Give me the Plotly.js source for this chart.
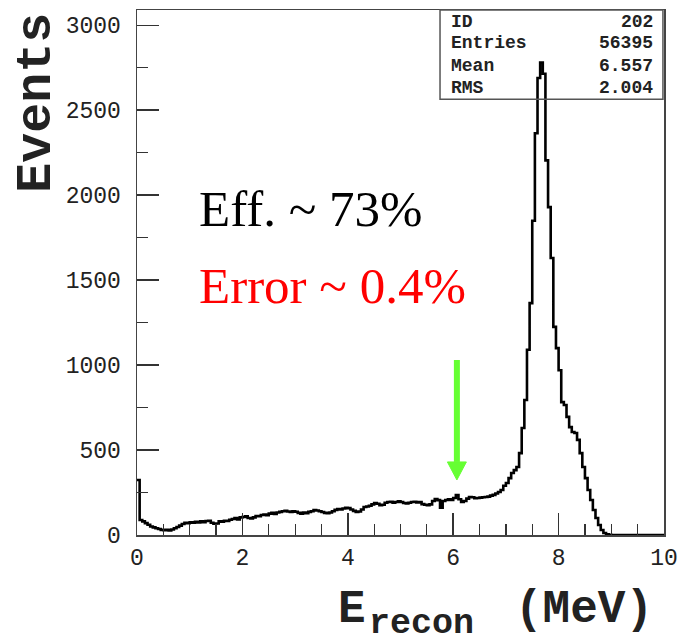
<!DOCTYPE html>
<html>
<head>
<meta charset="utf-8">
<script src="https://cdn.plot.ly/plotly-3.0.1.min.js"></script>
<style>html,body{margin:0;padding:0;background:#fff;}#chart{width:681px;height:644px;}</style>
</head>
<body>
<div id="chart"></div>
<script>
// Histogram of reconstructed energy, 200 bins of 0.05 MeV from 0 to 10 MeV
const binLow = 0;
const binWidth = 0.05;
const counts = [
  324, 88, 80, 70, 60, 50, 45, 40, 35, 30, 28, 30, 27, 32, 40, 47, 55, 65, 72, 70,
  75, 72, 78, 74, 80, 76, 82, 84, 72, 66, 68, 80, 78, 84, 82, 90, 94, 100, 92, 104,
  106, 110, 100, 98, 104, 112, 110, 118, 120, 116, 126, 130, 124, 132, 136, 140, 142, 138, 136, 140,
  137, 130, 126, 132, 129, 136, 140, 147, 144, 140, 135, 130, 128, 132, 140, 148, 153, 150, 156, 160,
  158, 150, 142, 135, 138, 150, 165, 168, 172, 180, 188, 184, 176, 178, 190, 194, 196, 190, 194, 198,
  194, 188, 186, 190, 194, 196, 192, 194, 182, 178, 176, 180, 200, 212, 205, 160, 200, 206, 210, 206,
  218, 235, 210, 194, 200, 214, 224, 222, 216, 218, 220, 222, 224, 226, 232, 236, 244, 253, 265, 290,
  306, 335, 365, 382, 400, 482, 630, 795, 1090, 1365, 1850, 2365, 2690, 2780, 2715, 2205, 1930, 1630, 1225, 1100,
  970, 782, 765, 695, 635, 606, 600, 560, 482, 400, 335, 265, 206, 147, 100, 59, 29, 12, 4, 1,
  0, 0, 0, 0, 0, 0, 0, 0, 0, 0, 0, 0, 0, 0, 0, 0, 0, 0, 0, 0
];
const xTickVals = [0, 2, 4, 6, 8, 10];
const xTickText = ['0', '2', '4', '6', '8', '10'];
const yTickVals = [0, 500, 1000, 1500, 2000, 2500, 3000];
const yTickText = ['0', '500', '1000', '1500', '2000', '2500', '3000'];
const statLabels = ['ID', 'Entries', 'Mean', 'RMS'];
const statValues = ['202', '56395', '6.557', '2.004'];
const effText = 'Eff. ~ 73%';
const errText = 'Error ~ 0.4%';
const yTitle = 'Events';
const xTitleMain = 'E';
const xTitleSub = 'recon';
const xTitleUnit = '(MeV)';
// green arrow marking the energy cut
const arrowEnergy = 6.07;
const arrowTip = 324;
const arrowHeadBase = 430;
const arrowTail = 1030;
const arrowHalfWidth = 0.18;

// build step outline from bin edges
const xs = [], ys = [];
for (let i = 0; i < counts.length; i++) { xs.push(binLow + i * binWidth); ys.push(counts[i]); }
xs.push(binLow + counts.length * binWidth); ys.push(counts[counts.length - 1]);

const mono = 'Liberation Mono, Courier New, monospace';
const serif = 'Liberation Serif, Times New Roman, serif';

const trace = {
  type: 'scatter', mode: 'lines', x: xs, y: ys,
  line: {shape: 'hv', color: '#000', width: 2.6},
  hoverinfo: 'skip', showlegend: false
};

const statRowsY = [0.977, 0.937, 0.893, 0.851];
const annotations = [];
statLabels.forEach((s, i) => {
  annotations.push({xref: 'paper', yref: 'paper', x: 0.592, y: statRowsY[i], xanchor: 'left', yanchor: 'middle',
    text: s, showarrow: false, font: {family: mono, size: 18, color: '#222', weight: 'bold'}});
  annotations.push({xref: 'paper', yref: 'paper', x: 0.983, y: statRowsY[i], xanchor: 'right', yanchor: 'middle',
    text: statValues[i], showarrow: false, font: {family: mono, size: 18, color: '#222', weight: 'bold'}});
});
annotations.push({xref: 'paper', yref: 'paper', x: 0.114, y: 0.621, xanchor: 'left', yanchor: 'middle',
  text: effText, showarrow: false, font: {family: serif, size: 51, color: '#000'}});
annotations.push({xref: 'paper', yref: 'paper', x: 0.114, y: 0.475, xanchor: 'left', yanchor: 'middle',
  text: errText, showarrow: false, font: {family: serif, size: 51, color: '#ff0000'}});
annotations.push({xref: 'paper', yref: 'paper', x: -0.19, y: 0.823, xanchor: 'center', yanchor: 'middle', textangle: -90,
  text: yTitle, showarrow: false, font: {family: mono, size: 50, color: '#222', weight: 'bold'}});
annotations.push({xref: 'paper', yref: 'paper', x: 0.378, y: -0.143, xanchor: 'left', yanchor: 'middle',
  text: xTitleMain, showarrow: false, font: {family: mono, size: 46, color: '#222', weight: 'bold'}});
annotations.push({xref: 'paper', yref: 'paper', x: 0.44, y: -0.2075, xanchor: 'left', yanchor: 'bottom',
  text: xTitleSub, showarrow: false, borderpad: 0, borderwidth: 0,
  font: {family: mono, size: 35, color: '#222', weight: 'bold'}});
annotations.push({xref: 'paper', yref: 'paper', x: 0.983, y: -0.143, xanchor: 'right', yanchor: 'middle',
  text: xTitleUnit, showarrow: false, font: {family: mono, size: 46, color: '#222', weight: 'bold'}});

const axisCommon = {
  showgrid: false, zeroline: false, showline: true, linecolor: '#444', linewidth: 1.5, mirror: true,
  ticks: 'inside', ticklen: 22, tickwidth: 1.5, tickcolor: '#333',
  tickfont: {family: mono, size: 23, color: '#222'}, tickmode: 'array'
};

const layout = {
  width: 681, height: 644, autosize: false,
  margin: {l: 137, r: 17, t: 10, b: 109},
  paper_bgcolor: '#fff', plot_bgcolor: '#fff',
  xaxis: Object.assign({}, axisCommon, {range: [0, 10], tickvals: xTickVals, ticktext: xTickText,
    minor: {dtick: 0.5, tick0: 0, ticks: 'inside', ticklen: 11, tickwidth: 1.2, tickcolor: '#333'}, ticklabelstandoff: 1}),
  yaxis: Object.assign({}, axisCommon, {range: [0, 3090], tickvals: yTickVals, ticktext: yTickText,
    minor: {dtick: 250, tick0: 0, ticks: 'inside', ticklen: 11, tickwidth: 1.2, tickcolor: '#333'}, ticklabelstandoff: 10}),
  shapes: [
    {type: 'rect', xref: 'paper', yref: 'paper', x0: 0.575, x1: 0.998, y0: 0.83, y1: 1.0,
      line: {color: '#555', width: 1.5}, fillcolor: 'rgba(0,0,0,0)', layer: 'above'},
    {type: 'line', xref: 'x', yref: 'y', x0: arrowEnergy, x1: arrowEnergy, y0: arrowTail, y1: arrowHeadBase,
      line: {color: '#66ff33', width: 6}},
    {type: 'path', xref: 'x', yref: 'y',
      path: 'M ' + (arrowEnergy - arrowHalfWidth) + ',' + arrowHeadBase + ' L ' + (arrowEnergy + arrowHalfWidth) + ',' + arrowHeadBase +
            ' L ' + arrowEnergy + ',' + arrowTip + ' Z',
      line: {color: '#66ff33', width: 1}, fillcolor: '#66ff33'}
  ],
  annotations: annotations
};

Plotly.newPlot('chart', [trace], layout, {displayModeBar: false, staticPlot: true});
</script>
</body>
</html>
